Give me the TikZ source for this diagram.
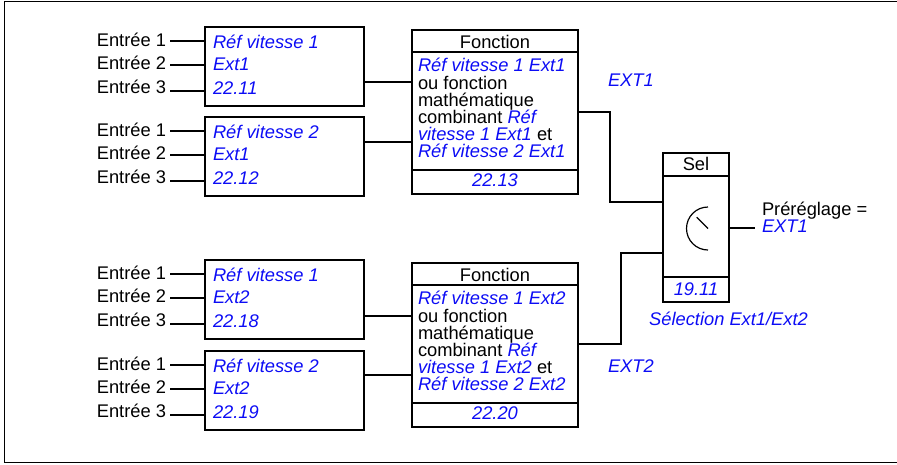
\documentclass[tikz,border=0pt]{standalone}
\usepackage{fontspec}
\setmainfont{Liberation Sans}
\usetikzlibrary{calc}
\definecolor{refblue}{RGB}{12,12,245}
\newcommand\inblk[6]{%
  \node[box, minimum width=159pt, minimum height=79pt] (#1) at (205,#2) {};
  \foreach \k/\yo/\lo in {1/19/14, 2/42/38, 3/66/64} {
    \node[txt, anchor=base east] (#1e\k) at (166,#2+\yo) {Entrée \k};
    \coordinate (#1c\k) at (170,#2+\lo);
    \draw[conn] (#1c\k) -- (#1c\k -| #1.west);
  }
  \node[val, anchor=base west] (#1ta) at (213,#2+21.5) {#3};
  \node[val, anchor=base west] (#1tb) at (213,#2+43) {#4};
  \node[val, anchor=base west] (#1tc) at (213,#2+67) {#5};
  \coordinate (#1o) at ([yshift=-#6pt]#1.north east);
}
\newcommand\fnblk[4]{%
  \node[box, minimum width=166pt, minimum height=163.5pt] (#1) at (412,#2) {};
  \draw[conn] ([yshift=-22pt]#1.north west) -- ([yshift=-22pt]#1.north east);
  \draw[conn] ([yshift=24pt]#1.south west) -- ([yshift=24pt]#1.south east);
  \node[txt, anchor=base] (#1h) at (495,#2+18) {Fonction};
  \node[val, anchor=base west] (#1l1) at (418,#2+41.8) {Réf vitesse 1 #3};
  \node[txt, anchor=base west] (#1l2) at (418,#2+59) {ou fonction};
  \node[txt, anchor=base west] (#1l3) at (418,#2+76.2) {mathématique};
  \node[txt, anchor=base west] (#1l4) at (418,#2+93.4) {combinant \textcolor{refblue}{\itshape Réf}};
  \node[txt, anchor=base west] (#1l5) at (418,#2+110.6) {\textcolor{refblue}{\itshape vitesse 1 #3} et};
  \node[val, anchor=base west] (#1l6) at (418,#2+127.8) {Réf vitesse 2 #3};
  \node[val, anchor=base] (#1f) at (495,#2+156) {#4};
}
\begin{document}
\begin{tikzpicture}[x=1pt,y=-1pt,
  box/.style={draw, line width=2pt, inner sep=0pt, outer sep=0pt, anchor=north west},
  conn/.style={line width=2pt},
  thinline/.style={line width=1.2pt},
  txt/.style={inner sep=0pt, outer sep=0pt, font=\fontsize{18.3}{18.3}\selectfont},
  val/.style={txt, text=refblue, font=\fontsize{18.3}{18.3}\selectfont\itshape},
]
\useasboundingbox (0,0) rectangle (897,464);
\draw[line width=1pt] (897,1.5) -- (4.5,1.5) -- (4.5,462.5) -- (897,462.5);

% input blocks
\inblk{ba}{27}{Réf vitesse 1}{Ext1}{22.11}{55}
\inblk{bb}{117}{Réf vitesse 2}{Ext1}{22.12}{25}
\inblk{bc}{260}{Réf vitesse 1}{Ext2}{22.18}{56}
\inblk{bd}{351}{Réf vitesse 2}{Ext2}{22.19}{24}

% function blocks
\fnblk{fa}{30}{Ext1}{22.13}
\fnblk{fb}{263}{Ext2}{22.20}

\draw[conn] (bao) -- (bao -| fa.west);
\draw[conn] (bbo) -- (bbo -| fa.west);
\draw[conn] (bco) -- (bco -| fb.west);
\draw[conn] (bdo) -- (bdo -| fb.west);

% selector
\node[box, minimum width=66pt, minimum height=149pt] (sel) at (663,153) {};
\draw[conn] ([yshift=-23pt]sel.north west) -- ([yshift=-23pt]sel.north east);
\draw[conn] ([yshift=25pt]sel.south west) -- ([yshift=25pt]sel.south east);
\node[txt, anchor=base] (selh) at (696,170) {Sel};
\node[val, anchor=base] (self) at (696,295) {19.11};
\coordinate (dc) at (708,228.5);
\draw[thinline] ([yshift=21.5pt]dc) arc[start angle=90, end angle=270, radius=21.5pt];
\draw[thinline] (dc) -- ++(135:16pt);

\coordinate (fao) at ([yshift=-82pt]fa.north east);
\coordinate (fbo) at ([yshift=-81pt]fb.north east);
\coordinate (sa) at ([yshift=-49pt]sel.north west);
\coordinate (sb) at ([yshift=-100pt]sel.north west);
\draw[conn] (fao) -| ([xshift=-53pt]sa) -- (sa);
\draw[conn] (fbo) -| ([xshift=-42.5pt]sb) -- (sb);

\coordinate (so) at ([yshift=-75pt]sel.north east);
\coordinate (soe) at ([xshift=26pt]so);
\draw[conn] (so) -- (soe);

% labels
\node[val, anchor=base west] (ext1) at (608,86.7) {EXT1};
\node[val, anchor=base west] (ext2) at (608,372.7) {EXT2};
\node[val, anchor=base] (seltxt) at (728.5,325) {Sélection Ext1/Ext2};
\node[txt, anchor=base west] (pre) at (762,215) {Préréglage =};
\node[val, anchor=base west] (pree) at (762,232) {EXT1};
\end{tikzpicture}
\end{document}
